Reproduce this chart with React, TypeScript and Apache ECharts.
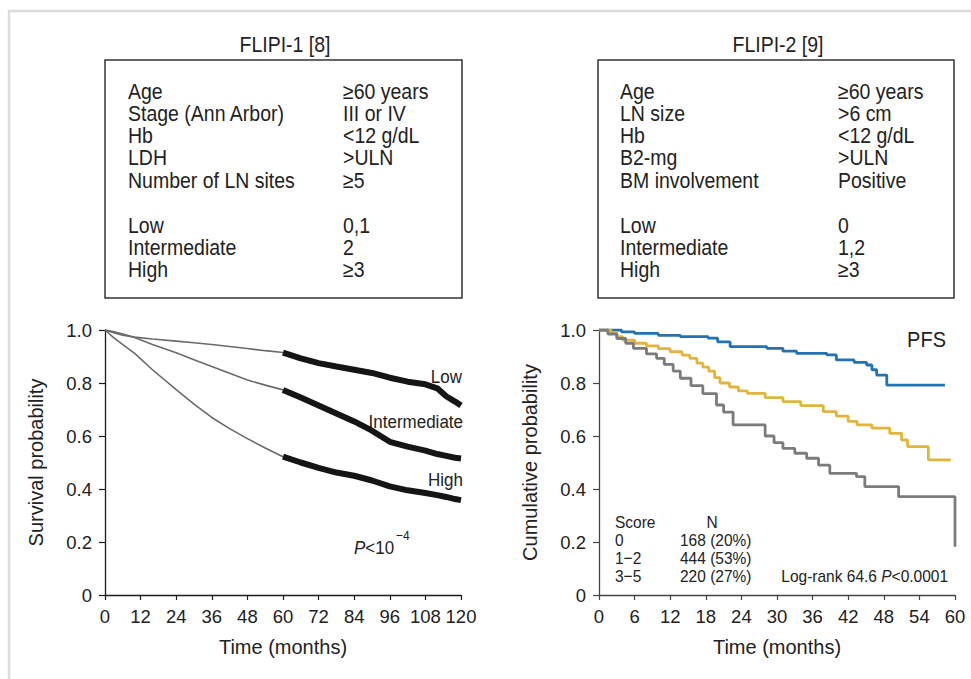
import React, { useEffect, useRef } from 'react';
import * as echarts from 'echarts';

const FONT = '"Liberation Sans", Arial, Helvetica, sans-serif';

// ---- FLIPI-1 (left panel): survival probability, months 0-120 ----
const f1Months = [0, 3, 6, 10, 16, 24, 30, 36, 42, 48, 54, 60, 66, 72, 78, 84, 90, 96, 102, 108, 112, 115, 118, 120];
const f1Low = [1.0, 0.99, 0.98, 0.973, 0.966, 0.958, 0.952, 0.945, 0.938, 0.93, 0.922, 0.915, 0.893, 0.875, 0.862, 0.85, 0.838, 0.82, 0.805, 0.795, 0.78, 0.75, 0.73, 0.715];
const f1Intermediate = [1.0, 0.993, 0.985, 0.972, 0.945, 0.914, 0.888, 0.862, 0.837, 0.811, 0.792, 0.774, 0.745, 0.715, 0.685, 0.655, 0.62, 0.578, 0.56, 0.545, 0.532, 0.525, 0.518, 0.515];
const f1High = [1.0, 0.97, 0.945, 0.912, 0.85, 0.775, 0.72, 0.67, 0.628, 0.59, 0.555, 0.522, 0.5, 0.48, 0.462, 0.45, 0.432, 0.41, 0.395, 0.385, 0.377, 0.37, 0.362, 0.358];
const f1CensorStart = 60;
const f1XTicks = { min: 0, max: 120, interval: 12 };

// ---- FLIPI-2 (right panel): PFS cumulative probability, months 0-60 ----
const f2Score0Months = [0, 3.8, 6, 10, 13.7, 18.4, 20, 22.1, 28.3, 31, 33.3, 38.4, 40, 43, 45.1, 46, 46.8, 48.5, 58.3];
const f2Score0 = [1.0, 0.993, 0.987, 0.98, 0.975, 0.969, 0.955, 0.937, 0.931, 0.92, 0.912, 0.906, 0.887, 0.878, 0.868, 0.85, 0.83, 0.792, 0.792];
const f2Score12Months = [0, 2, 3, 4, 6, 8, 10, 12, 14, 15.3, 16.5, 17.5, 18.5, 19.5, 20.4, 22, 23.5, 25, 28, 31, 34, 37.8, 40, 42, 43.5, 46, 49, 51, 52, 55.5, 59.3];
const f2Score12 = [1.0, 0.99, 0.975, 0.962, 0.95, 0.94, 0.93, 0.918, 0.905, 0.893, 0.875, 0.86, 0.845, 0.82, 0.8, 0.785, 0.77, 0.761, 0.745, 0.73, 0.715, 0.692, 0.675, 0.655, 0.642, 0.63, 0.61, 0.585, 0.56, 0.51, 0.51];
const f2Score35Months = [0, 1.5, 3, 4.5, 5.8, 8, 9.7, 11, 12.5, 13.7, 15.5, 17.5, 19.8, 21, 22.6, 26.5, 28, 29.5, 31, 33, 35, 37, 38.9, 43.4, 44.8, 50.5, 60];
const f2Score35 = [1.0, 0.985, 0.968, 0.95, 0.931, 0.91, 0.893, 0.87, 0.845, 0.818, 0.79, 0.76, 0.717, 0.69, 0.642, 0.642, 0.6, 0.575, 0.553, 0.535, 0.516, 0.49, 0.459, 0.447, 0.409, 0.371, 0.182];
const f2XTicks = { min: 0, max: 60, interval: 6 };

// ---- Text content ----
const f1Title = 'FLIPI-1 [8]';
const f2Title = 'FLIPI-2 [9]';
const f1Factors = ['Age', 'Stage (Ann Arbor)', 'Hb', 'LDH', 'Number of LN sites'];
const f1Criteria = ['≥60 years', 'III or IV', '<12 g/dL', '>ULN', '≥5'];
const f2Factors = ['Age', 'LN size', 'Hb', 'B2-mg', 'BM involvement'];
const f2Criteria = ['≥60 years', '>6 cm', '<12 g/dL', '>ULN', 'Positive'];
const riskGroups = ['Low', 'Intermediate', 'High'];
const f1Scores = ['0,1', '2', '≥3'];
const f2Scores = ['0', '1,2', '≥3'];
const f2ScoreLabels = ['0', '1−2', '3−5'];
const f2Counts = ['168 (20%)', '444 (53%)', '220 (27%)'];

const zip = (xs: number[], ys: number[]) => xs.map((x, i) => [x, ys[i]]);

export default function App() {
  const ref = useRef<HTMLDivElement>(null);
  useEffect(() => {
    if (!ref.current) return;
    const chart = echarts.init(ref.current, undefined, { renderer: 'svg' });
    const txt = '#222';

    const axisCommonX = (gridIndex: number, t: { min: number; max: number; interval: number }, lineColor: string) => ({
      gridIndex,
      type: 'value',
      min: t.min,
      max: t.max,
      interval: t.interval,
      axisLine: { show: true, lineStyle: { color: lineColor, width: 1.3 } },
      axisTick: { show: true, length: 5, lineStyle: { color: lineColor, width: 1.2 } },
      axisLabel: { fontSize: 18.5, color: txt, fontFamily: FONT, margin: 12 },
      splitLine: { show: false },
      name: 'Time (months)',
      nameLocation: 'middle',
      nameGap: 42,
      nameTextStyle: { fontSize: 20, color: txt, fontFamily: FONT },
    });
    const axisCommonY = (gridIndex: number, name: string, lineColor: string) => ({
      gridIndex,
      type: 'value',
      min: 0,
      max: 1,
      interval: 0.2,
      axisLine: { show: true, lineStyle: { color: lineColor, width: 1.3 } },
      axisTick: { show: true, length: 6, lineStyle: { color: lineColor, width: 1.2 } },
      axisLabel: {
        fontSize: 18.5,
        color: txt,
        fontFamily: FONT,
        margin: 13,
        formatter: (v: number) => (v === 0 ? '0' : v.toFixed(1)),
      },
      splitLine: { show: false },
      name,
      nameLocation: 'middle',
      nameGap: 59,
      nameTextStyle: { fontSize: 20, color: txt, fontFamily: FONT },
    });

    const thinLine = (name: string, ys: number[]) => ({
      name,
      type: 'line',
      xAxisIndex: 0,
      yAxisIndex: 0,
      showSymbol: false,
      symbol: 'none',
      data: zip(f1Months, ys).filter((p) => p[0] <= f1CensorStart),
      lineStyle: { color: '#6a6a6a', width: 1.6 },
      z: 2,
    });
    const thickLine = (name: string, ys: number[]) => ({
      name: name + ' (censored)',
      type: 'line',
      xAxisIndex: 0,
      yAxisIndex: 0,
      showSymbol: false,
      symbol: 'none',
      data: zip(f1Months, ys).filter((p) => p[0] >= f1CensorStart),
      lineStyle: { color: '#151515', width: 6 },
      z: 3,
    });
    const stepLine = (name: string, xs: number[], ys: number[], color: string) => ({
      name,
      type: 'line',
      step: 'end',
      xAxisIndex: 1,
      yAxisIndex: 1,
      showSymbol: false,
      symbol: 'none',
      data: zip(xs, ys),
      lineStyle: { color, width: 2.8 },
    });

    const textEl = (x: number, y: number, text: string, size: number, align = 'left', extra: any = {}) => ({
      type: 'text',
      x,
      y,
      scaleY: 1.12,
      style: { text, fontSize: size, fontFamily: FONT, fill: txt, align, verticalAlign: 'middle', ...extra },
    });

    const rowsY = [91, 113, 135, 157, 180];
    const groupY = [225, 247, 269];
    const boxTexts = (lx: number, rx: number, factors: string[], crit: string[], scores: string[]) => [
      ...factors.map((f, i) => textEl(lx, rowsY[i], f, 19.5)),
      ...crit.map((c, i) => textEl(rx, rowsY[i], c, 19.5)),
      ...riskGroups.map((g, i) => textEl(lx, groupY[i], g, 19.5)),
      ...scores.map((s, i) => textEl(rx, groupY[i], s, 19.5)),
    ];

    const tableY = [540, 558, 576];
    const graphic: any[] = [
      {
        type: 'polyline',
        shape: { points: [[9, 679], [9, 11], [971, 11]] },
        style: { stroke: '#dcdcdc', lineWidth: 2.5, fill: 'none' },
      },
      { type: 'rect', shape: { x: 105, y: 60, width: 357, height: 238 }, style: { stroke: '#333', lineWidth: 1.5, fill: 'none' } },
      { type: 'rect', shape: { x: 598, y: 60, width: 356, height: 238 }, style: { stroke: '#333', lineWidth: 1.5, fill: 'none' } },
      textEl(285, 44, f1Title, 19.5, 'center'),
      textEl(778, 44, f2Title, 19.5, 'center'),
      ...boxTexts(128, 343, f1Factors, f1Criteria, f1Scores),
      ...boxTexts(620, 838, f2Factors, f2Criteria, f2Scores),
      // left panel annotations
      textEl(462, 377, riskGroups[0], 17, 'right'),
      textEl(463, 422, riskGroups[1], 17, 'right'),
      textEl(463, 480, riskGroups[2], 17, 'right'),
      textEl(354, 548, '{i|P}<10', 17, 'left', {
        rich: { i: { fontStyle: 'italic', fontSize: 17, fontFamily: FONT, fill: txt } },
      }),
      textEl(396, 535, '−4', 12),
      // right panel annotations
      textEl(946, 339, 'PFS', 20, 'right'),
      textEl(615, 522, 'Score', 15.5),
      textEl(712, 522, 'N', 15.5, 'center'),
      ...f2ScoreLabels.map((s, i) => textEl(615, tableY[i], s, 15.5)),
      ...f2Counts.map((s, i) => textEl(680, tableY[i], s, 15.5)),
      textEl(948, 576, '{n|Log-rank 64.6 }{i|P}{n|<0.0001}', 15.5, 'right', {
        rich: {
          n: { fontSize: 15.5, fontFamily: FONT, fill: txt },
          i: { fontSize: 15.5, fontFamily: FONT, fill: txt, fontStyle: 'italic' },
        },
      }),
    ];

    chart.setOption({
      animation: false,
      backgroundColor: '#ffffff',
      textStyle: { fontFamily: FONT },
      grid: [
        { left: 105, top: 330, width: 356, height: 265, outerBoundsMode: 'none' },
        { left: 599, top: 330, width: 356, height: 265, outerBoundsMode: 'none' },
      ],
      xAxis: [axisCommonX(0, f1XTicks, '#1a1a1a'), axisCommonX(1, f2XTicks, '#444')],
      yAxis: [axisCommonY(0, 'Survival probability', '#1a1a1a'), axisCommonY(1, 'Cumulative probability', '#444')],
      series: [
        thinLine('Low', f1Low),
        thinLine('Intermediate', f1Intermediate),
        thinLine('High', f1High),
        thickLine('Low', f1Low),
        thickLine('Intermediate', f1Intermediate),
        thickLine('High', f1High),
        stepLine('Score 0', f2Score0Months, f2Score0, '#2472b3'),
        stepLine('Score 1-2', f2Score12Months, f2Score12, '#e2b53a'),
        stepLine('Score 3-5', f2Score35Months, f2Score35, '#7b7b7b'),
      ],
      graphic,
    });
    return () => chart.dispose();
  }, []);
  return <div ref={ref} style={{ position: 'absolute', left: 0, top: 0, width: 971, height: 679, background: '#fff' }} />;
}
